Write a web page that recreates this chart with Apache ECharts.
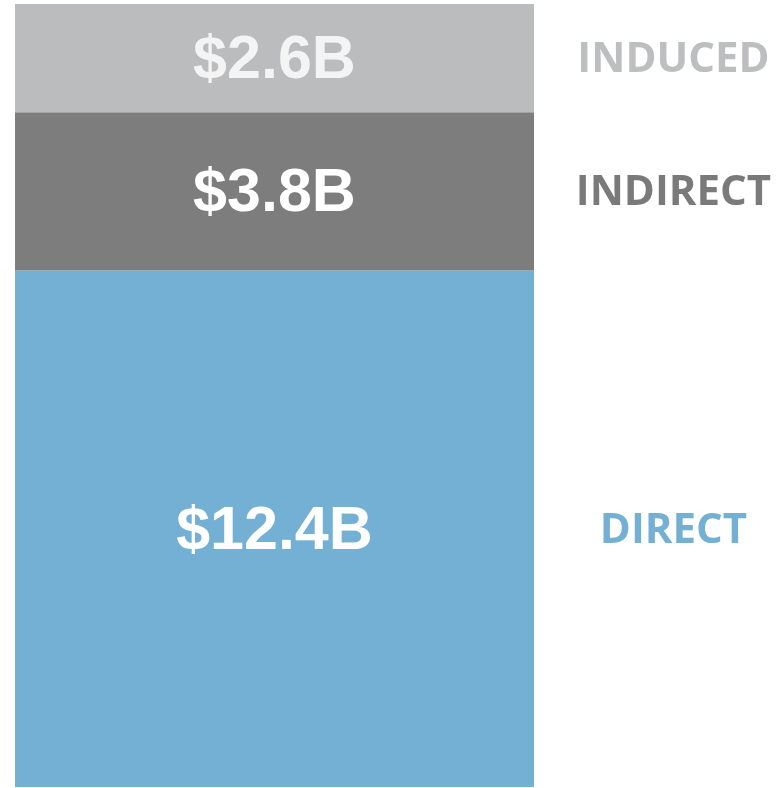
<!DOCTYPE html>
<html>
<head>
<meta charset="utf-8">
<script src="https://cdn.jsdelivr.net/npm/echarts@6/dist/echarts.min.js"></script>
<style>html,body{margin:0;padding:0;background:#fff;}#c{width:777px;height:788px;}</style>
</head>
<body>
<div id="c"></div>
<script>
const categories = ['Impact'];
const seriesNames = ['DIRECT', 'INDIRECT', 'INDUCED'];
const seriesValues = [12.4, 3.8, 2.6];
const valueLabels = ['$12.4B', '$3.8B', '$2.6B'];
const barColors = ['#74b0d4', '#7d7d7d', '#bbbcbe'];
const valueTextColors = ['#ffffff', '#ffffff', '#f4f4f4'];
const nameTextColors = ['#74b0d4', '#7a7a7a', '#bdbec0'];

const chart = echarts.init(document.getElementById('c'));
const series = [];
seriesNames.forEach((name, i) => {
  series.push({
    name: name,
    type: 'bar',
    stack: 'a',
    barWidth: '100%',
    data: [seriesValues[i]],
    itemStyle: { color: barColors[i] },
    label: {
      show: true, position: 'inside', offset: [0, 3],
      formatter: () => valueLabels[i],
      color: valueTextColors[i],
      fontFamily: 'Liberation Sans, Arial, sans-serif',
      fontWeight: 'bold', fontSize: 61
    },
    silent: true
  });
});
seriesNames.forEach((name, i) => {
  series.push({
    name: name + '_lbl',
    type: 'bar',
    stack: 'b',
    barWidth: '100%',
    barGap: '-100%',
    data: [seriesValues[i]],
    itemStyle: { color: 'rgba(0,0,0,0)' },
    label: {
      show: true, position: 'inside', offset: [399, 2],
      formatter: () => name,
      color: nameTextColors[i],
      fontFamily: 'Open Sans, sans-serif',
      fontWeight: 'bold', fontSize: 42
    },
    silent: true
  });
});
chart.setOption({
  animation: false,
  grid: { left: 15, right: 243, top: 4, bottom: 1 },
  xAxis: { type: 'category', data: categories, show: false },
  yAxis: { type: 'value', min: 0, max: 18.8, show: false },
  series: series
});
</script>
</body>
</html>
